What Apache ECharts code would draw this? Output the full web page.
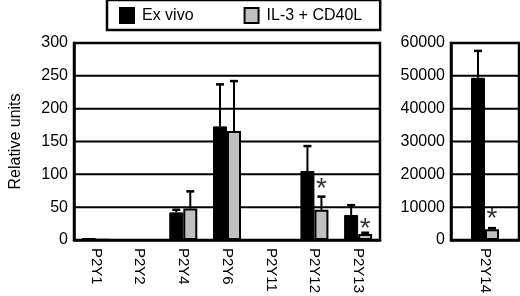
<!DOCTYPE html>
<html>
<head>
<meta charset="utf-8">
<script src="https://cdn.jsdelivr.net/npm/echarts@6/dist/echarts.min.js"></script>
<style>
  html, body { margin: 0; padding: 0; background: #fff; }
  #chart { width: 520px; height: 296px; }
</style>
</head>
<body>
<div id="chart"></div>
<script>
// categories
var leftCats = ['P2Y1', 'P2Y2', 'P2Y4', 'P2Y6', 'P2Y11', 'P2Y12', 'P2Y13'];
var rightCats = ['P2Y14'];

// bar values
var exVivo = [3, 0, 42, 173, 0, 105, 38];
var il3 = [1, 0, 48, 166, 0, 46, 9];
var exVivo14 = [49400];
var il314 = [3300];

// error bar tops (null = none drawn)
var exVivoErr = [null, null, 46, 237, null, 143, 53];
var il3Err = [null, null, 74, 242, null, 66, 11];
var exVivoErr14 = [57600];
var il3Err14 = [3600];

// asterisk positions (value axis)
var starLeft = [null, null, null, null, null, 86, 25];
var starRight = [8200];

var leftTicks = [0, 300, 50];
var rightTicks = [0, 60000, 10000];

var font = 'Liberation Sans, Arial, sans-serif';
var barW = 14;

function errData(tops, vals, side) {
    var out = [];
    tops.forEach(function (t, i) {
        if (t != null) out.push([i, vals[i], t, side]);
    });
    return out;
}
function starData(arr) {
    var out = [];
    arr.forEach(function (v, i) { if (v != null) out.push([i, v]); });
    return out;
}
// one row per gridline: [first category, tick value, last category]
function tickData(ticks, cats) {
    var out = [];
    for (var v = ticks[0] + ticks[2]; v <= ticks[1]; v += ticks[2]) out.push([0, v, cats.length - 1]);
    return out;
}
function renderErr(params, api) {
    var x = api.value(0);
    var p0 = api.coord([x, api.value(1)]);
    var p1 = api.coord([x, api.value(2)]);
    var cx = p0[0] + api.value(3) * barW / 2;
    return {
        type: 'group',
        children: [
            { type: 'line', shape: { x1: cx, y1: p0[1], x2: cx, y2: p1[1] }, style: { stroke: '#000', lineWidth: 2 } },
            { type: 'line', shape: { x1: cx - 4, y1: p1[1], x2: cx + 4, y2: p1[1] }, style: { stroke: '#000', lineWidth: 2.5 } }
        ]
    };
}
// horizontal gridline spanning all category bands
function renderGridLine(params, api) {
    var a = api.coord([api.value(0), api.value(1)]);
    var b = api.coord([api.value(2), api.value(1)]);
    var half = api.size([1, 0])[0] / 2;
    return {
        type: 'line',
        shape: { x1: a[0] - half, y1: a[1], x2: b[0] + half, y2: a[1] },
        style: { stroke: '#000', lineWidth: 2 }
    };
}

var chart = echarts.init(document.getElementById('chart'));

function yAxis(extra) {
    return Object.assign({
        type: 'value',
        axisLine: { show: true, lineStyle: { color: '#000', width: 2.5 } },
        axisTick: { show: false },
        axisLabel: { color: '#000', fontSize: 16, fontFamily: font, margin: 6,
                     formatter: function (v) { return String(v); } },
        splitLine: { show: false }
    }, extra);
}
function xAxis(extra) {
    return Object.assign({
        type: 'category',
        axisLine: { show: true, lineStyle: { color: '#000', width: 2.5 } },
        axisTick: { show: false },
        axisLabel: { color: '#000', fontSize: 15, fontFamily: font, rotate: -90, interval: 0, margin: 8 }
    }, extra);
}

var option = {
    animation: false,
    legend: {
        left: 107,
        top: 0,
        padding: [7, 18, 6, 12],
        borderColor: '#000',
        borderWidth: 2.5,
        itemWidth: 14,
        itemHeight: 15,
        itemGap: 50,
        textStyle: { color: '#000', fontSize: 16, fontFamily: font, padding: [0, 0, 0, 3] },
        data: [
            { name: 'Ex vivo', icon: 'rect', itemStyle: { color: '#000' } },
            { name: 'IL-3 + CD40L', icon: 'rect', itemStyle: { color: '#c0c0c0', borderColor: '#000', borderWidth: 2 } }
        ]
    },
    grid: [
        { left: 72, right: 140, top: 43, bottom: 56, show: true, borderColor: '#000', borderWidth: 2.5 },
        { left: 451, right: 1, top: 43, bottom: 56, show: true, borderColor: '#000', borderWidth: 2.5 }
    ],
    xAxis: [
        xAxis({ gridIndex: 0, data: leftCats }),
        xAxis({ gridIndex: 1, data: rightCats })
    ],
    yAxis: [
        yAxis({
            gridIndex: 0, min: leftTicks[0], max: leftTicks[1], interval: leftTicks[2],
            name: 'Relative units', nameLocation: 'middle', nameGap: 50,
            nameTextStyle: { color: '#000', fontSize: 16, fontFamily: font }
        }),
        yAxis({ gridIndex: 1, min: rightTicks[0], max: rightTicks[1], interval: rightTicks[2] })
    ],
    series: [
        { type: 'custom', xAxisIndex: 0, yAxisIndex: 0, renderItem: renderGridLine, data: tickData(leftTicks, leftCats),
          silent: true, z: 1 },
        { type: 'custom', xAxisIndex: 1, yAxisIndex: 1, renderItem: renderGridLine, data: tickData(rightTicks, rightCats),
          silent: true, z: 1 },
        { name: 'Ex vivo', type: 'bar', xAxisIndex: 0, yAxisIndex: 0, data: exVivo, barWidth: barW, barGap: '0%',
          itemStyle: { color: '#000', borderColor: '#000', borderWidth: 1 }, z: 3 },
        { name: 'IL-3 + CD40L', type: 'bar', xAxisIndex: 0, yAxisIndex: 0, data: il3, barWidth: barW, barGap: '0%',
          itemStyle: { color: '#c0c0c0', borderColor: '#000', borderWidth: 2 }, z: 3 },
        { name: 'Ex vivo', type: 'bar', xAxisIndex: 1, yAxisIndex: 1, data: exVivo14, barWidth: barW, barGap: '0%',
          itemStyle: { color: '#000', borderColor: '#000', borderWidth: 1 }, z: 3 },
        { name: 'IL-3 + CD40L', type: 'bar', xAxisIndex: 1, yAxisIndex: 1, data: il314, barWidth: barW, barGap: '0%',
          itemStyle: { color: '#c0c0c0', borderColor: '#000', borderWidth: 2 }, z: 3 },
        { type: 'custom', xAxisIndex: 0, yAxisIndex: 0, renderItem: renderErr, data: errData(exVivoErr, exVivo, -1), z: 5 },
        { type: 'custom', xAxisIndex: 0, yAxisIndex: 0, renderItem: renderErr, data: errData(il3Err, il3, 1), z: 5 },
        { type: 'custom', xAxisIndex: 1, yAxisIndex: 1, renderItem: renderErr, data: errData(exVivoErr14, exVivo14, -1), z: 5 },
        { type: 'custom', xAxisIndex: 1, yAxisIndex: 1, renderItem: renderErr, data: errData(il3Err14, il314, 1), z: 5 },
        { type: 'scatter', xAxisIndex: 0, yAxisIndex: 0, data: starData(starLeft), symbolSize: 1,
          itemStyle: { color: 'rgba(0,0,0,0)' },
          label: { show: true, position: 'inside', formatter: '*', offset: [7, 6], color: '#000', fontSize: 28, fontFamily: font } },
        { type: 'scatter', xAxisIndex: 1, yAxisIndex: 1, data: starData(starRight), symbolSize: 1,
          itemStyle: { color: 'rgba(0,0,0,0)' },
          label: { show: true, position: 'inside', formatter: '*', offset: [7, 6], color: '#000', fontSize: 28, fontFamily: font } }
    ]
};

chart.setOption(option);
</script>
</body>
</html>
